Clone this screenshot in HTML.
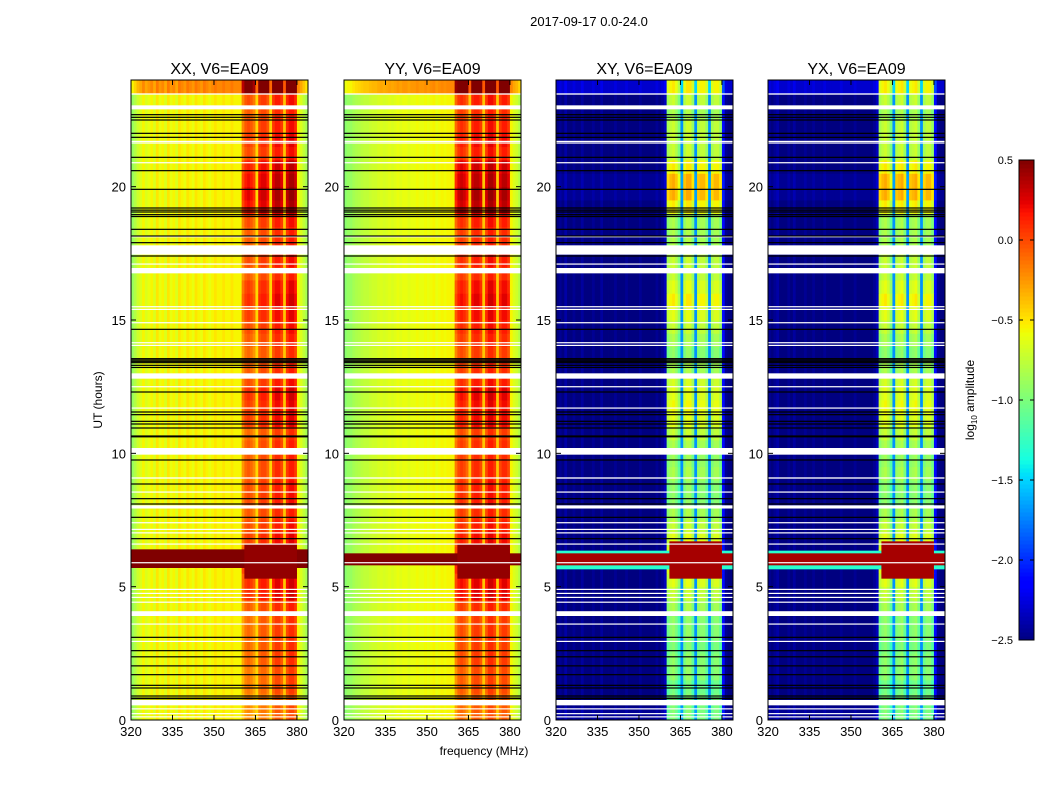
<!DOCTYPE html>
<html><head><meta charset="utf-8"><style>
html,body{margin:0;padding:0;background:#fff;}
svg{display:block;font-family:"Liberation Sans",sans-serif;}
</style></head><body>
<svg id="fig" width="1050" height="800" viewBox="0 0 1050 800">
<text x="589" y="26" font-size="13" text-anchor="middle">2017-09-17 0.0-24.0</text>
<text x="484" y="755" font-size="12" text-anchor="middle">frequency (MHz)</text>
<text transform="translate(102,400) rotate(-90)" font-size="12" text-anchor="middle">UT (hours)</text>
<text transform="translate(974,400) rotate(-90)" font-size="12" text-anchor="middle">log<tspan font-size="8" dy="3">10</tspan><tspan dy="-3"> amplitude</tspan></text>
</svg>
<script>
// ---- data ----
const panelTitles = ["XX, V6=EA09","YY, V6=EA09","XY, V6=EA09","YX, V6=EA09"];
const freqStart = 320, freqStep = 1, nFreq = 64;
const xTicks = [320,335,350,365,380];
const yTicks = [0,5,10,15,20];
const cbTicks = [0.5,0.0,-0.5,-1.0,-1.5,-2.0,-2.5];
const bandMask = [0,0,0,0,0,0,0,0,0,0,0,0,0,0,0,0,0,0,0,0,0,0,0,0,0,0,0,0,0,0,0,0,0,0,0,0,0,0,0,0,
 1,1,1,1,1,0,1,1,1,1,0,1,1,1,1,0,1,1,1,1,0,0,0,0];
const freqXX = [-0.9,-0.8,-0.7,-0.65,-0.55,-0.65,-0.6,-0.55,-0.65,-0.5,-0.6,-0.55,-0.65,-0.5,-0.6,-0.55,-0.65,-0.5,-0.55,-0.6,-0.5,-0.55,-0.6,-0.5,-0.55,-0.6,-0.5,-0.55,-0.6,-0.55,-0.5,-0.55,-0.55,-0.5,-0.55,-0.55,-0.5,-0.55,-0.55,-0.55,
 -0.3,-0.15,-0.1,-0.15,-0.25,-0.45,-0.1,-0.05,-0.05,-0.15,-0.45,-0.05,0.05,0.05,-0.05,-0.4,0.0,0.1,0.1,0.0,-0.55,-0.65,-0.75,-0.85];
const freqYY = [-0.95,-0.9,-0.9,-0.85,-0.82,-0.8,-0.77,-0.75,-0.75,-0.72,-0.7,-0.7,-0.67,-0.65,-0.67,-0.65,-0.63,-0.65,-0.63,-0.6,-0.63,-0.6,-0.6,-0.63,-0.6,-0.6,-0.57,-0.6,-0.6,-0.57,-0.6,-0.57,-0.55,-0.6,-0.57,-0.55,-0.57,-0.55,-0.55,-0.55,
 -0.2,-0.05,0.0,-0.05,-0.15,-0.4,0.0,0.05,0.05,-0.05,-0.4,-0.05,0.1,0.1,0.0,-0.4,-0.05,0.05,0.05,-0.05,-0.55,-0.65,-0.7,-0.8];
const freqXY = [-2.5,-2.45,-2.5,-2.4,-2.5,-2.5,-2.45,-2.5,-2.5,-2.42,-2.5,-2.5,-2.5,-2.45,-2.5,-2.5,-2.42,-2.5,-2.5,-2.5,-2.5,-2.45,-2.5,-2.5,-2.5,-2.45,-2.5,-2.5,-2.5,-2.5,-2.45,-2.5,-2.5,-2.5,-2.5,-2.5,-2.45,-2.5,-2.45,-2.35,
 -0.95,-0.85,-0.8,-0.9,-1.1,-1.7,-0.9,-0.8,-0.8,-1.0,-1.7,-0.9,-0.85,-0.85,-1.0,-1.7,-0.95,-0.85,-0.85,-1.0,-2.1,-2.45,-2.5,-2.5];
const freqYX = [-2.45,-2.5,-2.45,-2.4,-2.5,-2.5,-2.5,-2.45,-2.5,-2.42,-2.5,-2.5,-2.5,-2.45,-2.5,-2.5,-2.45,-2.5,-2.5,-2.5,-2.45,-2.5,-2.5,-2.5,-2.5,-2.5,-2.45,-2.5,-2.5,-2.5,-2.5,-2.45,-2.5,-2.5,-2.5,-2.5,-2.5,-2.5,-2.45,-2.35,
 -0.95,-0.85,-0.8,-0.9,-1.1,-1.7,-0.9,-0.85,-0.8,-1.0,-1.7,-0.9,-0.85,-0.8,-1.0,-1.7,-0.95,-0.85,-0.85,-1.0,-2.1,-2.45,-2.5,-2.5];
// time rows: 0.5 h each, 48 rows
const timeStep = 0.5;
const timeBandPar = [-0.1,-0.1,-0.05,-0.05,0,0,0,0,0.05,0.2,0.2,0.3,0.2,0.15,0.1,0.05,0.1,0.1,0.05,0.05,0.05,0,0.15,0.15,0.2,0.1,0.05,0,0.05,0.1,0.15,0.2,0.15,0.05,0.1,0.05,0.05,0.1,0.3,0.35,0.3,0.25,0.1,0.15,0.1,0.05,0.1,0.3];
const timeBandCross = [-0.2,-0.15,-0.2,-0.1,-0.1,-0.15,-0.1,-0.1,0,0.1,0.2,0.3,0.3,0.2,0.1,0,-0.1,-0.1,0,-0.05,0,0.1,0.2,0.25,0.2,0.15,0,-0.1,0,0.1,0.2,0.3,0.2,0.1,0.1,0,0,0,0.3,0.45,0.45,0.3,0.1,0.1,0.1,0,0.1,0.1];
const timeAllPar = [0,0,0,0,0,0,0,0,0,0,0,0,0,0,0,0,0,0,0,0,0,0,0,0,0,0,0,0,0,0,0,0,0,0,0,0,0,0,0,0,0,0,0,0,0,0,0,0.35];
const timeAllCross = [0.05,0,0,0,0,0,0,0,0,0,0,0,0,0,0,0,0,0,0,0,0,0,0,0,0,0,0,0,0,0,0,0,0,0,0,0,0,0,0,0.05,0.05,0,0,0,0,0,0,0.2];
// RFI events: [t0, t1, f0, f1, value]
const rfiXX = [[5.7,6.4,320,384,0.5],[5.3,6.6,361,380,0.45]];
const rfiYY = [[5.8,6.25,320,384,0.5],[5.3,6.6,361,380,0.45]];
const rfiXY = [[5.65,6.35,320,384,-1.3],[5.8,6.25,320,384,0.4],[5.3,6.7,361,380,0.4]];
const rfiYX = [[5.65,6.35,320,384,-1.3],[5.8,6.25,320,384,0.4],[5.3,6.7,361,380,0.4]];
// flagged (white) time ranges, hours
const flagged = [[23.45,23.5],[22.9,23.05],[21.68,21.72],[21.62,21.66],[20.88,20.92],[18.1,18.15],[17.45,17.8],[17.08,17.12],[16.75,16.95],[15.48,15.52],[15.38,15.42],[14.88,14.92],[14.13,14.17],[14.03,14.07],[12.8,13.0],[12.48,12.52],[11.68,11.72],[9.95,10.2],[9.05,9.1],[8.53,8.57],[7.93,8.05],[7.38,7.42],[7.13,7.17],[7.0,7.04],[6.58,6.62],[5.88,5.92],[4.88,4.92],[4.73,4.77],[4.58,4.62],[4.4,4.44],[3.9,4.08],[3.58,3.62],[2.93,2.97],[0.55,0.75],[0.4,0.44],[0.22,0.26],[0.1,0.14]];
// black lines, hours
const blackLines = [22.7,22.6,22.5,22.0,21.85,21.1,20.6,19.9,19.2,19.12,19.05,18.95,18.88,18.4,18.15,17.9,17.4,14.65,13.55,13.5,13.45,13.4,13.3,13.22,12.3,11.55,11.45,11.2,11.1,10.95,10.65,10.62,9.75,8.85,8.3,8.1,7.6,6.8,3.1,2.6,2.37,2.03,1.7,1.3,1.2,0.9,0.82,0.8];

// ---- layout ----
const NS="http://www.w3.org/2000/svg";
const svg=document.getElementById('fig');
const panelX=[131,344,556,768], PW=177, PY0=80, PH=640;
const fMin=320,fMax=384,tMin=0,tMax=24;
const vMin=-2.5,vMax=0.5;
function xs(i,f){return panelX[i]+(f-fMin)/(fMax-fMin)*PW;}
function ys(t){return PY0+PH-(t-tMin)/(tMax-tMin)*PH;}
const JR=[[0,0],[0.35,0],[0.66,1],[0.89,1],[1,0.5]];
const JG=[[0,0],[0.125,0],[0.375,1],[0.64,1],[0.91,0],[1,0]];
const JB=[[0,0.5],[0.11,1],[0.34,1],[0.65,0],[1,0]];
function seg(s,t){for(let i=1;i<s.length;i++){if(t<=s[i][0]){const a=s[i-1],b=s[i];return a[1]+(b[1]-a[1])*(t-a[0])/(b[0]-a[0]);}}return s[s.length-1][1];}
function jet(v){let t=(v-vMin)/(vMax-vMin);t=Math.max(0,Math.min(1,t));
 const c=x=>Math.round(255*x);
 return `rgb(${c(seg(JR,t))},${c(seg(JG,t))},${c(seg(JB,t))})`;}
function mk(tag,attrs,parent){const e=document.createElementNS(NS,tag);for(const k in attrs)e.setAttribute(k,attrs[k]);(parent||svg).appendChild(e);return e;}

const freqs=[freqXX,freqYY,freqXY,freqYX];
const tBand=[timeBandPar,timeBandPar,timeBandCross,timeBandCross];
const tAll=[timeAllPar,timeAllPar,timeAllCross,timeAllCross];
const rfis=[rfiXX,rfiYY,rfiXY,rfiYX];

for(let p=0;p<4;p++){
 const g=mk('g',{});
 
 
 for(let r=0;r<tBand[p].length;r++){
  const t0=r*timeStep,t1=t0+timeStep;
  for(let f=0;f<nFreq;f++){
   const f0=freqStart+f*freqStep;
   const v=freqs[p][f]+tAll[p][r]+bandMask[f]*tBand[p][r];
   const x0=xs(p,f0),x1=xs(p,f0+freqStep);
   const e=mk('rect',{x:x0.toFixed(2),y:ys(t1).toFixed(2),width:(x1-x0+0.4).toFixed(2),height:(ys(t0)-ys(t1)+0.4).toFixed(2),fill:jet(v)},g);
   
   
  }
 }
 for(const ev of rfis[p]){
  const e=mk('rect',{x:xs(p,ev[2]),y:ys(ev[1]),width:xs(p,ev[3])-xs(p,ev[2]),height:ys(ev[0])-ys(ev[1]),fill:jet(ev[4])},g);
  
  
 }
 for(const fl of flagged){
  const e=mk('rect',{x:panelX[p],y:ys(fl[1]),width:PW,height:Math.max(1.2,ys(fl[0])-ys(fl[1])),fill:'#fff'},g);
  
  
 }
 for(const bl of blackLines){
  const e=mk('rect',{x:panelX[p],y:ys(bl)-0.6,width:PW,height:1.2,fill:'#000'},g);
  
  
 }
 const fr=mk('rect',{x:panelX[p],y:PY0,width:PW,height:PH,fill:'none',stroke:'#000','stroke-width':1});
 
 
 const tt=mk('text',{x:panelX[p]+PW/2,y:74,'font-size':16,'text-anchor':'middle'});
 tt.textContent=panelTitles[p];
 
 
 for(const xt of xTicks){
  const x=xs(p,xt);
  mk('line',{x1:x,x2:x,y1:PY0+PH,y2:PY0+PH-5,stroke:'#000'});
  mk('line',{x1:x,x2:x,y1:PY0,y2:PY0+5,stroke:'#000'});
  const l=mk('text',{x:x,y:736,'font-size':13,'text-anchor':'middle'});
  l.textContent=xt;
  
  
 }
 for(const yt of yTicks){
  const y=ys(yt);
  mk('line',{x1:panelX[p],x2:panelX[p]+5,y1:y,y2:y,stroke:'#000'});
  mk('line',{x1:panelX[p]+PW,x2:panelX[p]+PW-5,y1:y,y2:y,stroke:'#000'});
  const l=mk('text',{x:panelX[p]-5,y:y+5,'font-size':13,'text-anchor':'end'});
  l.textContent=yt;
  
  
 }
}
// colorbar
const cbX=1019,cbW=15,cbY0=160,cbH=480;
const cb=mk('g',{});


const nSteps=120;
for(let i=0;i<nSteps;i++){
 const v=vMin+(i+0.5)/nSteps*(vMax-vMin);
 const y=cbY0+cbH-(i+1)/nSteps*cbH;
 mk('rect',{x:cbX,y:y.toFixed(2),width:cbW,height:(cbH/nSteps+0.5).toFixed(2),fill:jet(v)},cb);
}
mk('rect',{x:cbX,y:cbY0,width:cbW,height:cbH,fill:'none',stroke:'#000'},cb);
for(const v of cbTicks){
 const y=cbY0+cbH-(v-vMin)/(vMax-vMin)*cbH;
 mk('line',{x1:cbX,x2:cbX+4,y1:y,y2:y,stroke:'#000'},cb);
 mk('line',{x1:cbX+cbW,x2:cbX+cbW-4,y1:y,y2:y,stroke:'#000'},cb);
 const l=mk('text',{x:1013,y:y+4,'font-size':11,'text-anchor':'end'},cb);
 l.textContent=v.toFixed(1).replace('-','\u2212');
 
 
}
</script>
</body></html>
